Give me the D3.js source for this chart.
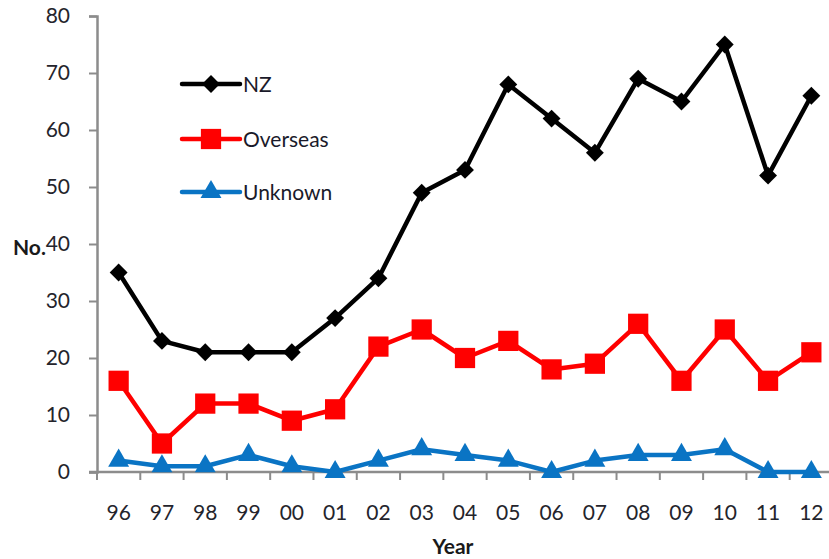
<!DOCTYPE html>
<html>
<head>
<meta charset="utf-8">
<script src="https://cdn.jsdelivr.net/npm/d3@7"></script>
<style>
  body { margin: 0; background: #fff; }
  text { font-family: Lato, "Open Sans", sans-serif; }
</style>
</head>
<body>
<script>
"use strict";

var years = ["96", "97", "98", "99", "00", "01", "02", "03", "04", "05", "06", "07", "08", "09", "10", "11", "12"];
var nzValues = [35, 23, 21, 21, 21, 27, 34, 49, 53, 68, 62, 56, 69, 65, 75, 52, 66];
var overseasValues = [16, 5, 12, 12, 9, 11, 22, 25, 20, 23, 18, 19, 26, 16, 25, 16, 21];
var unknownValues = [2, 1, 1, 3, 1, 0, 2, 4, 3, 2, 0, 2, 3, 3, 4, 0, 0];
var yTicks = [0, 10, 20, 30, 40, 50, 60, 70, 80];

var series = [
    { name: "NZ", values: nzValues, color: "#000000", symbol: d3.symbolSquare, size: 160, rot: 45 },
    { name: "Overseas", values: overseasValues, color: "#ff0000", symbol: d3.symbolSquare, size: 410, rot: 0 },
    { name: "Unknown", values: unknownValues, color: "#0a74c4", symbol: d3.symbolTriangle, size: 190, rot: 0 }
];

var chartW = 829;
var chartH = 559;
var plotLeft = 97, plotRight = 833, plotTop = 16, plotBottom = 472;

var svg = d3.select("body").append("svg")
    .attr("width", chartW)
    .attr("height", chartH);

var x = d3.scaleBand().domain(years).range([plotLeft, plotRight]);
var y = d3.scaleLinear().domain([0, 80]).range([plotBottom, plotTop]);

var axisColor = "#8c8c8c";
var labelColor = "#24242c";
var fontSize = "21px";

// y axis
var yAxis = svg.append("g")
    .attr("transform", "translate(" + plotLeft + ",0)")
    .call(d3.axisLeft(y).tickValues(yTicks).tickSize(8).tickPadding(19));
yAxis.select(".domain").attr("stroke", axisColor).attr("stroke-width", 2.5);
yAxis.selectAll(".tick line").attr("stroke", axisColor).attr("stroke-width", 2);
yAxis.selectAll(".tick text")
    .attr("fill", labelColor)
    .attr("font-family", null)
    .attr("font-size", null)
    .style("font-size", fontSize);

// x axis with ticks between categories
var xAxis = svg.append("g")
    .attr("transform", "translate(0," + plotBottom + ")");
xAxis.append("line")
    .attr("x1", plotLeft - 8).attr("x2", plotRight)
    .attr("y1", 0).attr("y2", 0)
    .attr("stroke", axisColor).attr("stroke-width", 2.5);
xAxis.selectAll("line.tk")
    .data(years)
    .enter()
    .append("line")
    .attr("class", "tk")
    .attr("x1", function(d) { return x(d); })
    .attr("x2", function(d) { return x(d); })
    .attr("y1", 0).attr("y2", 8)
    .attr("stroke", axisColor).attr("stroke-width", 2);
xAxis.selectAll("text")
    .data(years)
    .enter()
    .append("text")
    .attr("x", function(d) { return x(d) + x.bandwidth() / 2; })
    .attr("y", 48)
    .attr("text-anchor", "middle")
    .attr("fill", labelColor)
    .style("font-size", fontSize)
    .text(function(d) { return d; });

// axis titles
svg.append("text")
    .attr("x", 453).attr("y", 554)
    .attr("text-anchor", "middle")
    .attr("fill", "#1a1a1a")
    .style("font-size", fontSize)
    .style("font-weight", "bold")
    .text("Year");
svg.append("text")
    .attr("x", 13).attr("y", 255)
    .attr("fill", "#1a1a1a")
    .style("font-size", fontSize)
    .style("font-weight", "bold")
    .text("No.");

// lines and markers
var line = d3.line()
    .x(function(d, i) { return x(years[i]) + x.bandwidth() / 2; })
    .y(function(d) { return y(d); });

series.forEach(function(s) {
    var g = svg.append("g").attr("class", "series");
    g.append("path")
        .datum(s.values)
        .attr("d", line)
        .attr("fill", "none")
        .attr("stroke", s.color)
        .attr("stroke-width", 4.5)
        .attr("stroke-linejoin", "round");
    g.selectAll("path.marker")
        .data(s.values)
        .enter()
        .append("path")
        .attr("class", "marker")
        .attr("d", d3.symbol().type(s.symbol).size(s.size))
        .attr("transform", function(d, i) {
            return "translate(" + (x(years[i]) + x.bandwidth() / 2) + "," + y(d) + ") rotate(" + s.rot + ")";
        })
        .attr("fill", s.color);
});

// legend
var legend = svg.append("g").attr("class", "legend");
var legendY = [84, 139, 192];
series.forEach(function(s, i) {
    var row = legend.append("g").attr("transform", "translate(0," + legendY[i] + ")");
    row.append("line")
        .attr("x1", 182).attr("x2", 240)
        .attr("stroke", s.color)
        .attr("stroke-width", 4.5)
        .attr("stroke-linecap", "round");
    row.append("path")
        .attr("d", d3.symbol().type(s.symbol).size(s.size))
        .attr("transform", "translate(211,0) rotate(" + s.rot + ")")
        .attr("fill", s.color);
    row.append("text")
        .attr("x", 243).attr("y", 8)
        .attr("fill", "#1a1a2a")
        .style("font-size", fontSize)
        .text(s.name);
});
</script>
</body>
</html>
